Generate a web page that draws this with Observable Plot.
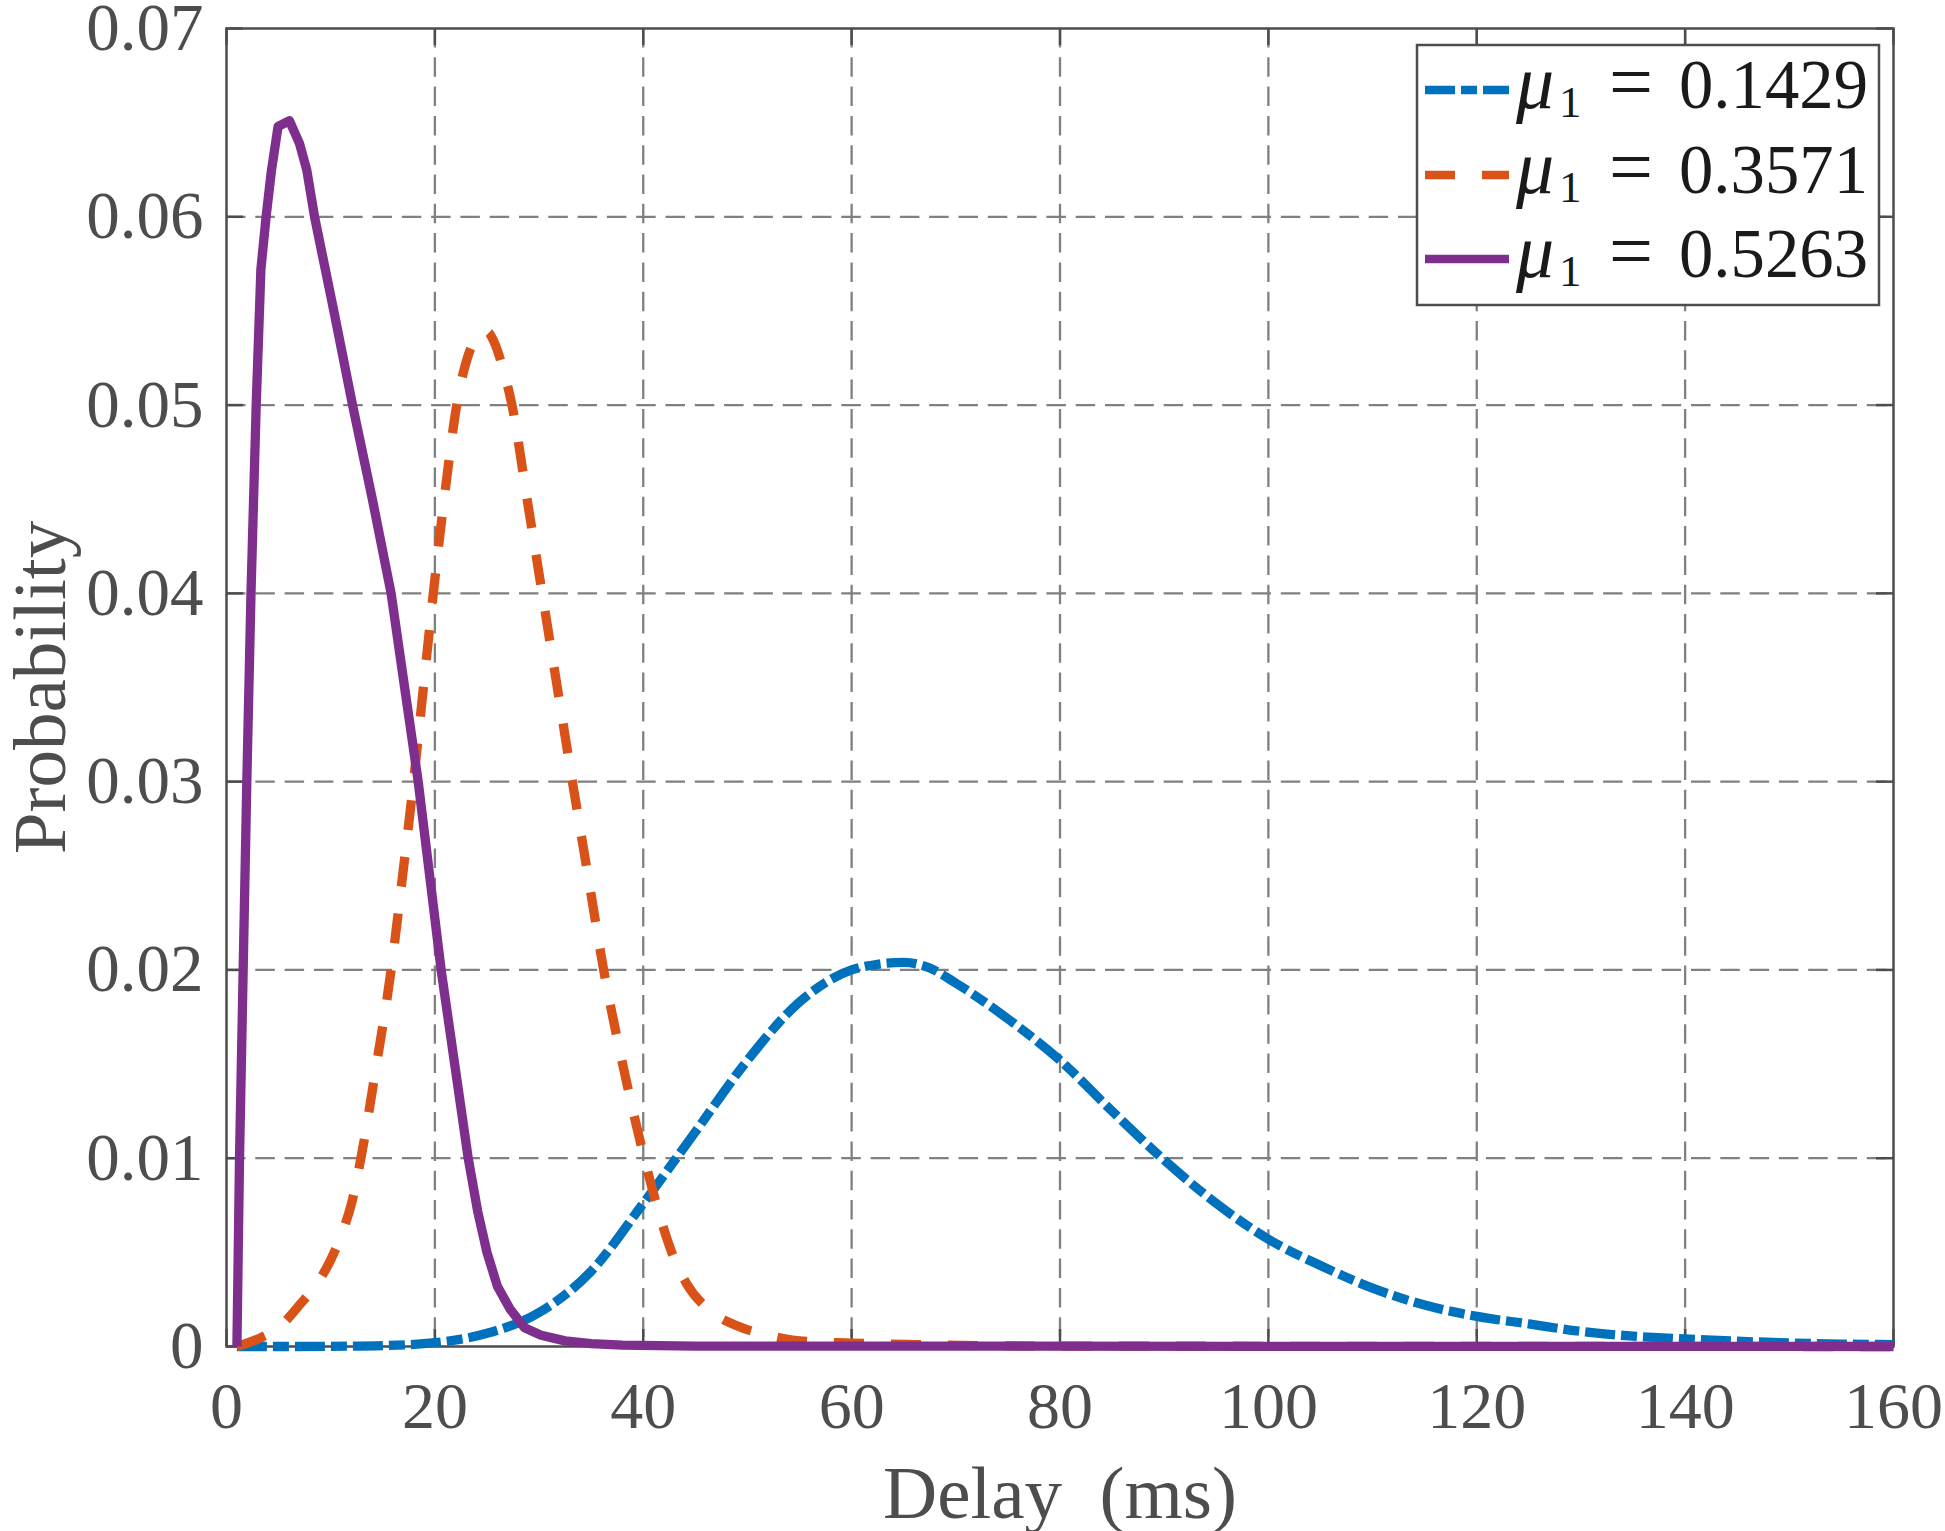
<!DOCTYPE html>
<html>
<head>
<meta charset="utf-8">
<script src="https://cdn.jsdelivr.net/npm/d3@7"></script>
<script src="https://cdn.jsdelivr.net/npm/@observablehq/plot@0.6"></script>
<style>
html, body { margin: 0; padding: 0; background: #fff; }
#wrap { position: relative; width: 1945px; height: 1531px; }
#wrap svg text { white-space: pre; }
#legend { position: absolute; left: 0; top: 0; pointer-events: none; }
</style>
</head>
<body>
<div id="wrap"></div>
<script>
// ---- data ----
const delayBlue = [1, 5, 10, 15, 20, 25, 30, 35, 40, 45, 50, 55, 60, 62.5, 65, 67.5, 70, 75, 80, 85, 90, 95, 100, 105, 110, 115, 120, 125, 130, 135, 140, 145, 150, 155, 160];
const probBlue  = [0, 0, 0.00001, 0.00005, 0.0002, 0.0007, 0.0018, 0.0040, 0.0076, 0.0114, 0.0152, 0.0183, 0.0200, 0.0203, 0.0204, 0.0201, 0.0193, 0.0174, 0.0152, 0.0125, 0.0099, 0.0076, 0.0057, 0.0043, 0.0031, 0.0022, 0.0016, 0.0012, 0.0008, 0.00055, 0.0004, 0.00028, 0.00019, 0.00013, 0.0001];

const delayOrange = [1, 3, 5, 7, 9, 10, 11, 12, 12.9, 14.4, 15.8, 16.9, 17.95, 18.9, 19.85, 21.0, 22.1, 23.3, 24.2, 25.0, 25.8, 26.5, 27.4, 28.85, 30.3, 31.75, 33.2, 34.7, 36.2, 38.1, 40.1, 41.3, 42.6, 44.2, 46.2, 49.0, 52, 55, 60, 66, 72, 80, 160];
const probOrange  = [0, 0.0004, 0.0010, 0.0022, 0.0036, 0.0046, 0.0059, 0.0076, 0.0100, 0.0150, 0.0200, 0.0250, 0.0300, 0.0350, 0.0400, 0.0455, 0.0500, 0.0528, 0.0537, 0.0539, 0.0532, 0.0520, 0.0500, 0.0450, 0.0400, 0.0350, 0.0300, 0.0250, 0.0200, 0.0148, 0.0100, 0.0075, 0.0052, 0.0033, 0.0020, 0.0011, 0.0006, 0.0003, 0.00018, 0.0001, 0.00005, 0.00002, 0];

const delayPurple = [1, 1.25, 1.6, 1.95, 2.35, 2.85, 3.3, 3.8, 4.3, 4.95, 6.05, 7.0, 7.7, 8.45, 10.3, 12.1, 14.0, 15.8, 17.2, 18.4, 19.5, 20.6, 21.9, 23.2, 24.1, 25.0, 26.0, 27.2, 28.6, 30.2, 32.5, 35, 38, 45, 160];
const probPurple  = [0, 0.010, 0.020, 0.030, 0.040, 0.050, 0.0572, 0.0600, 0.0624, 0.0648, 0.0651, 0.0639, 0.0625, 0.0600, 0.0550, 0.0500, 0.0450, 0.0400, 0.0346, 0.0300, 0.0250, 0.0200, 0.0150, 0.0100, 0.0072, 0.0050, 0.0032, 0.0020, 0.0010, 0.0006, 0.0003, 0.00015, 0.00007, 0.00002, 0];

const seriesNames  = ["0.1429", "0.3571", "0.5263"];
const seriesColors = ["#0072BD", "#D95319", "#7E2F8E"];
const seriesDashes = ["30,6,16,6", "30,27", null];

const xTicks = [0, 20, 40, 60, 80, 100, 120, 140, 160];
const yTicks = [0, 0.01, 0.02, 0.03, 0.04, 0.05, 0.06, 0.07];
const xTitle = "Delay  (ms)";
const yTitle = "Probability";

// ---- build tables ----
const toRows = (xs, ys) => xs.map((d, i) => ({delay: d, prob: ys[i]}));
const tables = [toRows(delayBlue, probBlue), toRows(delayOrange, probOrange), toRows(delayPurple, probPurple)];

const W = 1945, H = 1531;
const mL = 226, mR = 52, mT = 28, mB = 185;
const innerW = W - mL - mR, innerH = H - mT - mB;
const tickLen = 17;
const axisColor = "#4d4d4d";
const lineW = 9.3;
const gridStyle = {stroke: "#808080", strokeWidth: 2.3, strokeDasharray: "19.5,9.8"};

const lineMarks = tables.map((rows, i) => Plot.line(rows, {
  x: "delay", y: "prob",
  stroke: seriesColors[i], strokeWidth: lineW,
  strokeDasharray: seriesDashes[i] || undefined,
  strokeLinecap: "butt", strokeLinejoin: "round",
  curve: i === 2 ? "linear" : "monotone-x"
}));

const plot = Plot.plot({
  width: W, height: H,
  marginLeft: mL, marginRight: mR, marginTop: mT, marginBottom: mB,
  style: {fontFamily: "'Liberation Serif', 'Times New Roman', serif", background: "white", overflow: "visible"},
  x: {domain: [0, 160]},
  y: {domain: [0, 0.07]},
  marks: [
    Plot.ruleX(xTicks.slice(1, -1), {x: d => d, ...gridStyle}),
    Plot.ruleY(yTicks.slice(1, -1), {y: d => d, ...gridStyle}),
    Plot.frame({stroke: axisColor, strokeWidth: 2.5}),
    Plot.tickX(xTicks, {x: d => d, insetTop: innerH - tickLen, stroke: axisColor, strokeWidth: 2.5}),
    Plot.tickX(xTicks, {x: d => d, insetBottom: innerH - tickLen, stroke: axisColor, strokeWidth: 2.5}),
    Plot.tickY(yTicks, {y: d => d, insetRight: innerW - tickLen, stroke: axisColor, strokeWidth: 2.5}),
    Plot.tickY(yTicks, {y: d => d, insetLeft: innerW - tickLen, stroke: axisColor, strokeWidth: 2.5}),
    Plot.axisX({ticks: xTicks, tickSize: 0, tickPadding: 35, fontSize: 66, color: axisColor, label: null, tickFormat: d => String(d)}),
    Plot.axisY({ticks: yTicks, tickSize: 0, tickPadding: 23, fontSize: 67, color: axisColor, label: null, tickFormat: d => d === 0 ? "0" : d.toFixed(2)}),
    ...lineMarks,
    Plot.text([xTitle], {text: d => d, frameAnchor: "bottom", lineAnchor: "bottom", textAnchor: "middle", dy: 171, fontSize: 75, fill: axisColor}),
    Plot.text([yTitle], {text: d => d, frameAnchor: "left", lineAnchor: "bottom", textAnchor: "middle", rotate: -90, dx: -162, fontSize: 75, fill: axisColor})
  ]
});
const wrap = document.getElementById("wrap");
wrap.appendChild(plot);

// ---- legend overlay ----
const lg = d3.select(wrap).append("svg").attr("id", "legend")
  .attr("width", W).attr("height", H).attr("viewBox", `0 0 ${W} ${H}`);
const box = {x: 1417, y: 45, w: 462, h: 260};
lg.append("rect").attr("x", box.x).attr("y", box.y).attr("width", box.w).attr("height", box.h)
  .attr("fill", "white").attr("stroke", axisColor).attr("stroke-width", 2.5);
const rowY = [90, 175, 259];
const serif = "'Liberation Serif', 'Times New Roman', serif";
seriesNames.forEach((name, i) => {
  const y = rowY[i];
  const ln = lg.append("line").attr("x1", 1425).attr("x2", 1509).attr("y1", y).attr("y2", y)
    .attr("stroke", seriesColors[i]).attr("stroke-width", 8.5).attr("stroke-linecap", "butt");
  if (seriesDashes[i]) ln.attr("stroke-dasharray", seriesDashes[i]);
  const g = lg.append("g").attr("fill", "#1a1a1a").style("font-family", serif);
  g.append("text").attr("x", 1516).attr("y", y + 18).attr("font-size", 76).attr("font-style", "italic").text("μ");
  g.append("text").attr("x", 1559).attr("y", y + 27).attr("font-size", 45).text("1");
  g.append("text").attr("x", 1631).attr("y", y + 18).attr("font-size", 78).attr("text-anchor", "middle").text("=");
  g.append("text").attr("x", 1679).attr("y", y + 18).attr("font-size", 70)
    .attr("textLength", 189).attr("lengthAdjust", "spacingAndGlyphs").text(name);
});
</script>
</body>
</html>
